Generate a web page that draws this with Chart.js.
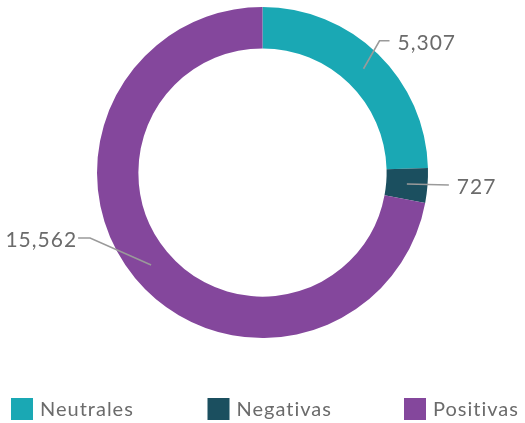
<!DOCTYPE html>
<html>
<head>
<meta charset="utf-8">
<script src="https://cdn.jsdelivr.net/npm/chart.js@4.4.1/dist/chart.umd.min.js"></script>
<style>
  html, body { margin: 0; padding: 0; background: #fff; }
  #wrap { width: 525px; height: 423px; position: relative; }
</style>
</head>
<body>
<div id="wrap"><canvas id="c" width="525" height="423"></canvas></div>
<script>
// Opinion breakdown
const categories = ['Neutrales', 'Negativas', 'Positivas'];
const values = [5307, 727, 15562];
const colors = ['#1AA8B4', '#1B4F5F', '#84479C'];

const FONT = 'Lato, "Open Sans", sans-serif';
const TEXT_COLOR = '#6b6b6b';

// Leader line callouts: offset of the elbow from the ring midpoint, then a short tail
const calloutPlugin = {
  id: 'callouts',
  afterDatasetsDraw(chart, args, opts) {
    const ctx = chart.ctx;
    const meta = chart.getDatasetMeta(0);
    const ds = chart.data.datasets[0];
    meta.data.forEach((arc, i) => {
      const p = arc.getProps(['x', 'y', 'startAngle', 'endAngle', 'innerRadius', 'outerRadius'], true);
      const mid = (p.startAngle + p.endAngle) / 2;
      const r = (p.innerRadius + p.outerRadius) / 2;
      const sx = p.x + Math.cos(mid) * r;
      const sy = p.y + Math.sin(mid) * r;
      const o = opts.offsets[i];
      const ex = sx + o.dx, ey = sy + o.dy;
      const tx = ex + o.tail;
      ctx.save();
      ctx.strokeStyle = '#9a9a9a';
      ctx.lineWidth = 1.6;
      ctx.beginPath();
      ctx.moveTo(sx, sy);
      ctx.lineTo(ex, ey);
      ctx.lineTo(tx, ey);
      ctx.stroke();
      ctx.fillStyle = TEXT_COLOR;
      ctx.font = '21px ' + FONT;
      ctx.letterSpacing = '1px';
      ctx.textBaseline = 'middle';
      const right = o.tail < 0;
      ctx.textAlign = right ? 'right' : 'left';
      ctx.fillText(ds.data[i].toLocaleString('en-US'), tx + (right ? -1 : 8), ey + 2);
      ctx.restore();
    });
  }
};

// Legend drawn in evenly spaced columns along the bottom
const legendPlugin = {
  id: 'colLegend',
  afterDraw(chart, args, opts) {
    const ctx = chart.ctx;
    const ds = chart.data.datasets[0];
    ctx.save();
    ctx.font = '20px ' + FONT;
    ctx.letterSpacing = '1px';
    ctx.textBaseline = 'middle';
    ctx.textAlign = 'left';
    chart.data.labels.forEach((lab, i) => {
      const x = opts.left + i * opts.step;
      const y = opts.top;
      ctx.fillStyle = ds.backgroundColor[i];
      ctx.fillRect(x, y, 22, 22);
      ctx.fillStyle = TEXT_COLOR;
      ctx.fillText(lab, x + 29, y + 12);
    });
    ctx.restore();
  }
};

new Chart(document.getElementById('c'), {
  type: 'doughnut',
  data: {
    labels: categories,
    datasets: [{
      data: values,
      backgroundColor: colors,
      borderWidth: 0,
      hoverOffset: 0
    }]
  },
  options: {
    responsive: false,
    animation: false,
    cutout: '75%',
    layout: { padding: { top: 7, bottom: 85, left: 0, right: 0 } },
    plugins: {
      legend: { display: false },
      tooltip: { enabled: false },
      callouts: {
        offsets: [
          { dx: 16, dy: -28, tail: 10 },
          { dx: 42, dy: 1, tail: 0 },
          { dx: -61, dy: -27, tail: -12 }
        ]
      },
      colLegend: { left: 11, step: 196.5, top: 398 }
    }
  },
  plugins: [calloutPlugin, legendPlugin]
});
</script>
</body>
</html>
